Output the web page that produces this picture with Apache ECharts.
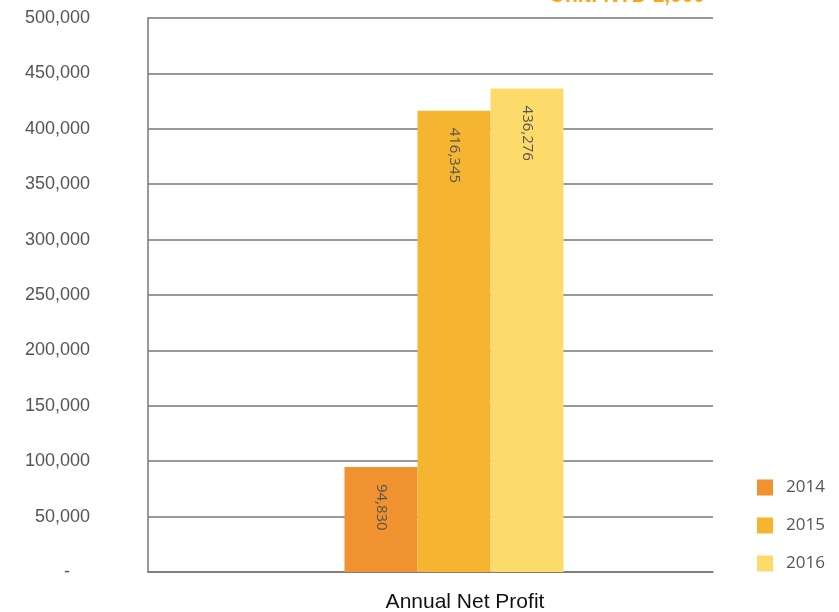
<!DOCTYPE html>
<html>
<head>
<meta charset="utf-8">
<script src="https://cdn.jsdelivr.net/npm/echarts@6/dist/echarts.min.js"></script>
<style>
  html, body { margin: 0; padding: 0; background: #fff; }
  #chart { width: 839px; height: 612px; }
</style>
</head>
<body>
<div id="chart"></div>
<script>
// Annual net profit, unit: NTD 1,000
const categories = ['Annual Net Profit'];
const years = ['2014', '2015', '2016'];
const profit2014 = [94830];
const profit2015 = [416345];
const profit2016 = [436276];
const yearColors = ['#F0922F', '#F6B530', '#FDDB6A'];
const yMin = 0, yMax = 500000, yStep = 50000;

const seriesValues = [profit2014, profit2015, profit2016];

const chart = echarts.init(document.getElementById('chart'));

const fmt = v => v.toLocaleString('en-US');

chart.setOption({
  animation: false,
  // grid 0 carries the visible axes and gridlines, grid 1 places the bar cluster
  grid: [
    { left: 148, right: 126, top: 18, bottom: 40, outerBoundsMode: 'none', containLabel: false },
    { left: 148, right: 79, top: 18, bottom: 40, outerBoundsMode: 'none', containLabel: false }
  ],
  legend: {
    orient: 'vertical',
    left: 752,
    top: 474,
    itemWidth: 16,
    itemHeight: 16,
    itemGap: 21,
    icon: 'rect',
    textStyle: { fontFamily: 'Open Sans', fontSize: 17, color: '#555', padding: [0, 0, 0, 8] },
    data: years
  },
  graphic: [{
    type: 'text',
    x: 705,
    y: 7,
    style: {
      text: 'Unit: NTD 1,000',
      fill: '#FFA514',
      font: 'bold 21px "Liberation Sans"',
      align: 'right',
      verticalAlign: 'bottom'
    }
  }],
  xAxis: [{
    type: 'category',
    gridIndex: 0,
    data: categories,
    axisLine: { show: true, lineStyle: { color: '#777', width: 1.5 } },
    axisTick: { show: false },
    axisLabel: { show: false },
    name: categories[0],
    nameLocation: 'middle',
    nameGap: 20,
    nameTextStyle: { fontFamily: 'Liberation Sans', fontSize: 21, color: '#111', padding: [0, 0, 0, 69], verticalAlign: 'top' }
  }, {
    type: 'category',
    gridIndex: 1,
    data: categories,
    show: false
  }],
  yAxis: [{
    type: 'value',
    gridIndex: 0,
    min: yMin,
    max: yMax,
    interval: yStep,
    axisLine: { show: true, lineStyle: { color: '#777', width: 1.5 } },
    axisTick: { show: false },
    splitLine: { show: true, lineStyle: { color: '#777', width: 1.5 } },
    axisLabel: {
      margin: 58,
      fontFamily: 'Liberation Sans',
      fontSize: 18,
      color: '#555',
      formatter: v => v === 0 ? '{dash|-}' : fmt(v),
      rich: { dash: { fontFamily: 'Liberation Sans', fontSize: 18, color: '#555', padding: [0, 20, 0, 0] } }
    }
  }, {
    type: 'value',
    gridIndex: 1,
    min: yMin,
    max: yMax,
    interval: yStep,
    show: false,
    splitLine: { show: false }
  }],
  series: years.map((y, i) => ({
    name: y,
    type: 'bar',
    xAxisIndex: 1,
    yAxisIndex: 1,
    data: seriesValues[i],
    barGap: '0%',
    barWidth: 73,
    itemStyle: { color: yearColors[i] },
    label: {
      show: true,
      position: 'insideTop',
      rotate: -90,
      align: 'left',
      verticalAlign: 'middle',
      distance: 17,
      formatter: p => fmt(p.value),
      fontFamily: 'Open Sans',
      fontSize: 15,
      color: '#555'
    }
  }))
});
</script>
</body>
</html>
